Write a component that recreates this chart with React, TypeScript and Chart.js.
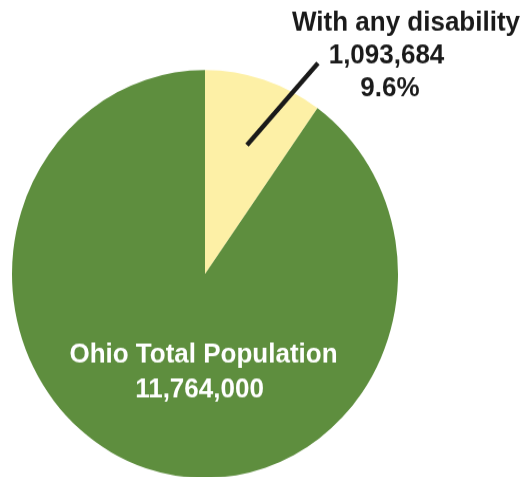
import React, { useEffect, useRef } from 'react';
import { Chart, registerables } from 'chart.js';

Chart.register(...registerables);

const categories = ['With any disability', 'Ohio Total Population'];
const sliceShare = [9.9, 90.1];
const countLabels = ['1,093,684', '11,764,000'];
const percentLabels = ['9.6%', ''];
const sliceColors = ['#fdf0a6', '#5e8e3e'];

const STRETCH = 1.057;
const FONT = 'bold 26px "Liberation Sans", Arial, Helvetica, sans-serif';

const labelPlugin = {
  id: 'pieLabels',
  afterDatasetsDraw(chart: any) {
    const ctx = chart.ctx as CanvasRenderingContext2D;
    const meta = chart.getDatasetMeta(0);
    const arc = meta.data[0];
    const p = arc.getProps(['x', 'y', 'startAngle', 'endAngle', 'outerRadius'], true);
    const a = p.startAngle + (p.endAngle - p.startAngle) * 0.533;
    const sx = p.x + Math.cos(a) * p.outerRadius * 0.668;
    const sy = p.y + Math.sin(a) * p.outerRadius * 0.668;
    ctx.save();
    ctx.strokeStyle = '#1a1a1a';
    ctx.lineWidth = 4.5;
    ctx.lineCap = 'butt';
    ctx.beginPath();
    ctx.moveTo(sx, sy);
    ctx.lineTo(sx + 71, sy - 77.6);
    ctx.stroke();

    ctx.font = FONT;
    ctx.textAlign = 'center';
    ctx.textBaseline = 'alphabetic';
    ctx.fillStyle = '#1a1a1a';
    const cx = p.x;
    const cy = p.y;
    ctx.fillText(categories[0], cx + 201, cy - 229.9);
    ctx.fillText(countLabels[0], cx + 181.5, cy - 199.6);
    ctx.fillText(percentLabels[0], cx + 185, cy - 168.4);

    ctx.fillStyle = '#ffffff';
    ctx.fillText(categories[1], cx - 1.5, cy + 84.2);
    ctx.fillText(countLabels[1], cx - 5.5, cy + 116.4);
    ctx.restore();
  },
};

export default function App() {
  const ref = useRef<HTMLCanvasElement | null>(null);
  useEffect(() => {
    if (!ref.current) return;
    const chart = new Chart(ref.current, {
      type: 'pie',
      data: {
        labels: categories,
        datasets: [
          {
            data: sliceShare,
            backgroundColor: sliceColors,
            borderWidth: 0,
          },
        ],
      },
      options: {
        animation: false,
        responsive: true,
        maintainAspectRatio: false,
        layout: { padding: { left: 12, right: 127, top: 66.2, bottom: 7.8 } },
        plugins: {
          legend: { display: false },
          tooltip: { enabled: false },
        },
      },
      plugins: [labelPlugin],
    });
    return () => chart.destroy();
  }, []);
  return (
    <div
      style={{
        position: 'fixed',
        left: 0,
        top: 0,
        width: 525,
        height: 477,
        overflow: 'hidden',
        background: '#ffffff',
      }}
    >
      <div
        style={{
          position: 'absolute',
          left: 0,
          top: 0,
          width: 525,
          height: 460,
          transform: `scaleY(${STRETCH})`,
          transformOrigin: '0 0',
        }}
      >
        <canvas ref={ref} />
      </div>
    </div>
  );
}
